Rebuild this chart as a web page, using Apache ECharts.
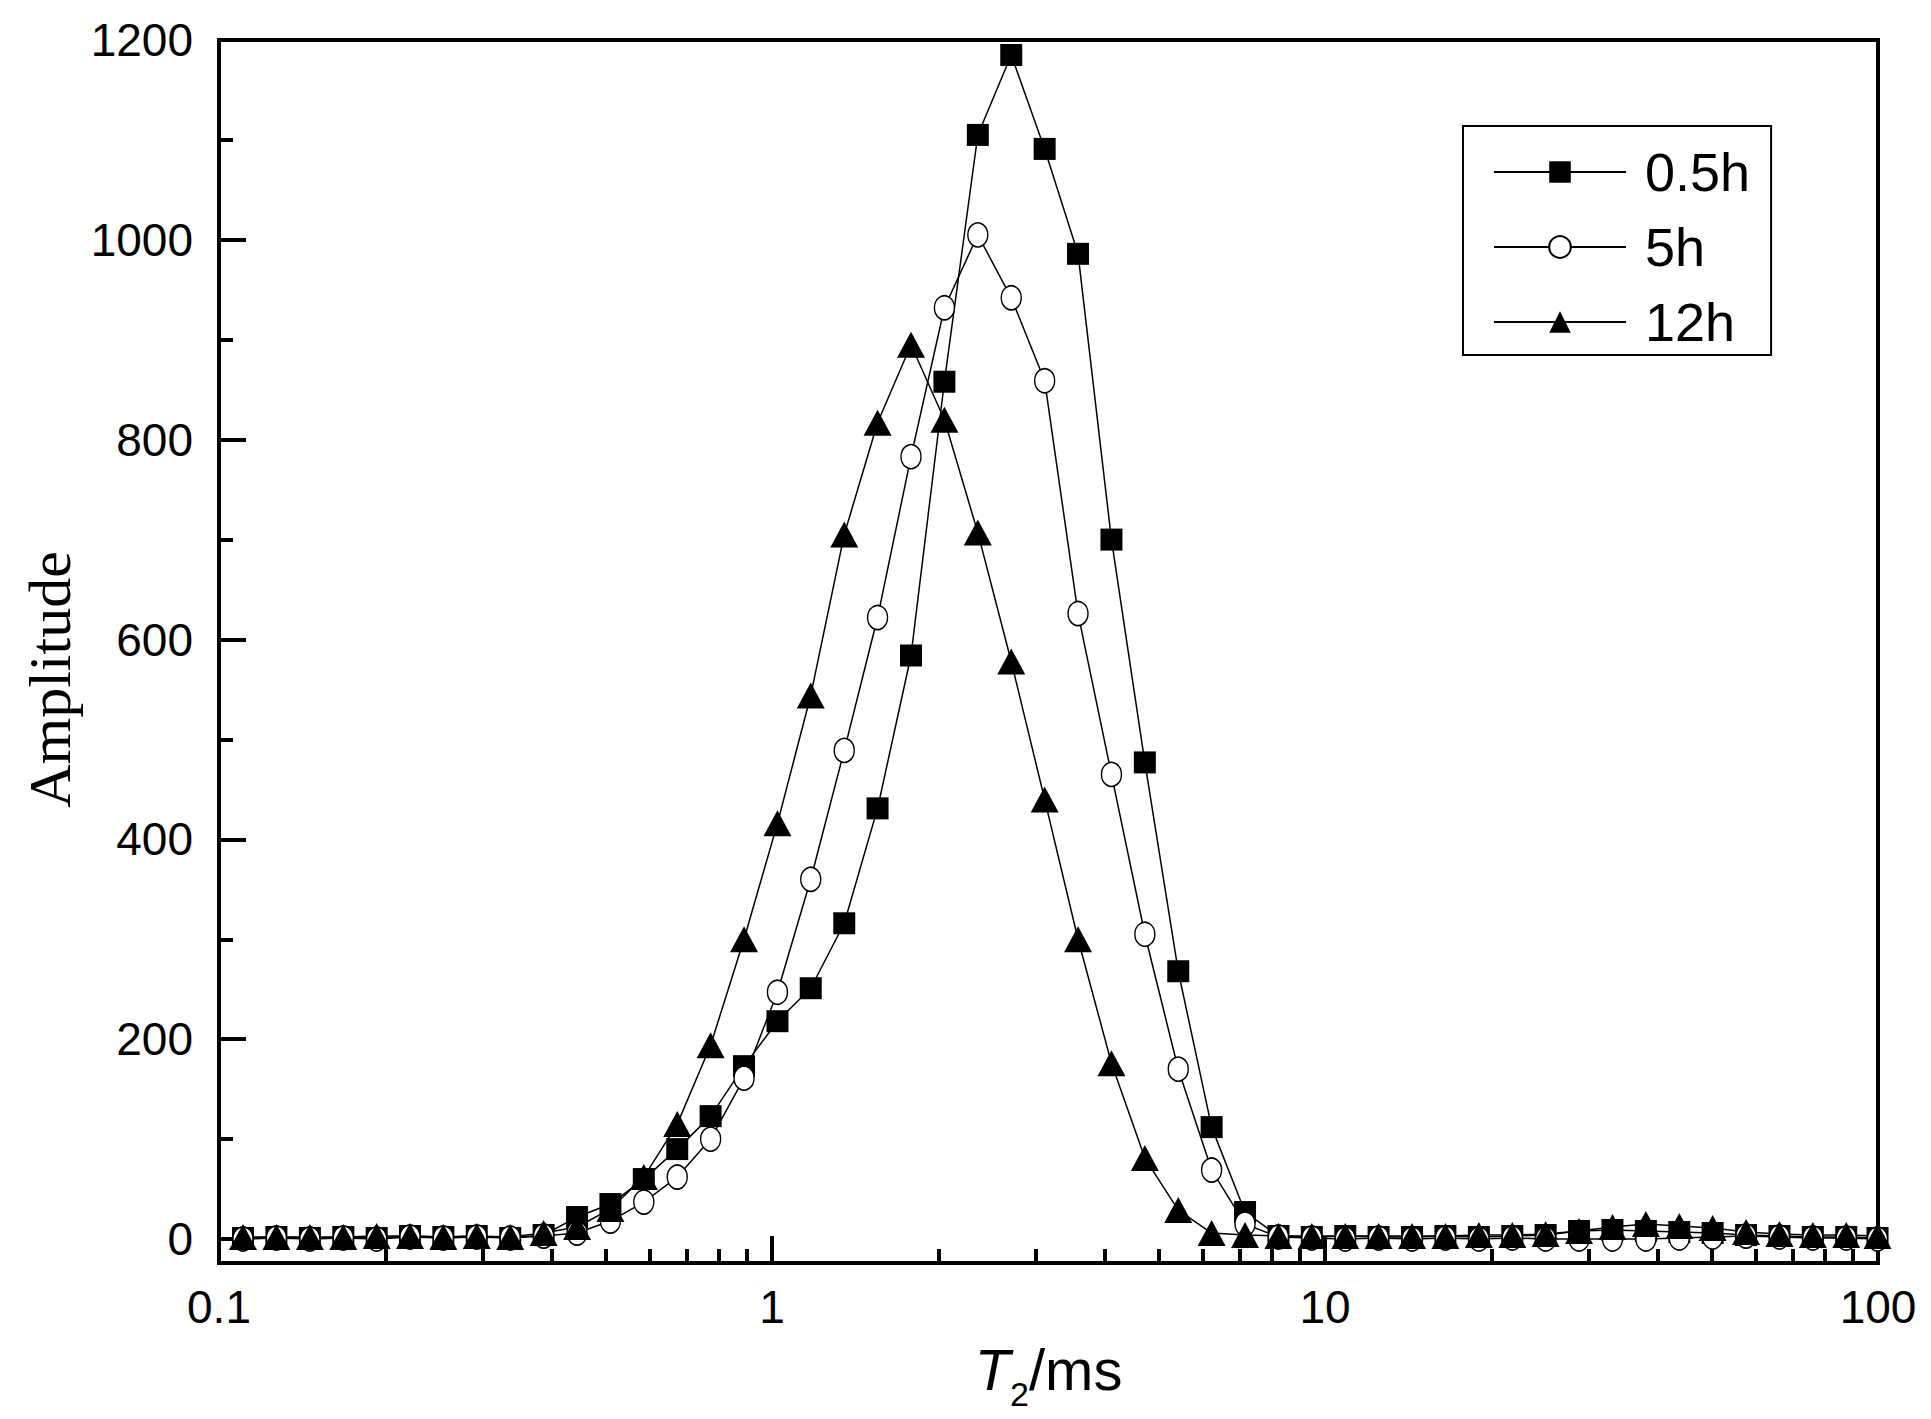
<!DOCTYPE html>
<html>
<head>
<meta charset="utf-8">
<script src="https://cdn.jsdelivr.net/npm/echarts@6/dist/echarts.min.js"></script>
<style>
  html, body { margin: 0; padding: 0; background: #fff; }
  #chart { width: 1931px; height: 1419px; background: #fff; }
</style>
</head>
<body>
<div id="chart"></div>
<script>
// T2 relaxation times (ms), log spaced
const t2 = [0.1105, 0.127, 0.146, 0.1678, 0.1928, 0.2215, 0.2545, 0.2925, 0.3362, 0.3864,
  0.4441, 0.5103, 0.5864, 0.674, 0.7745, 0.8901, 1.023, 1.175, 1.351, 1.552,
  1.784, 2.05, 2.356, 2.708, 3.112, 3.576, 4.11, 4.723, 5.428, 6.237,
  7.168, 8.238, 9.467, 10.88, 12.5, 14.37, 16.51, 18.98, 21.81, 25.06,
  28.8, 33.1, 38.04, 43.72, 50.23, 57.73, 66.34, 76.24, 87.61, 99.8];

const amp05h = [1, 2, 1, 2, 1, 3, 2, 3, 1, 4,
  22, 35, 60, 90, 123, 173, 218, 251, 316, 431,
  584, 858, 1105, 1185, 1091, 986, 700, 477, 268, 112,
  27, 3, 2, 3, 2, 2, 3, 2, 3, 4,
  8, 9, 8, 7, 6, 4, 3, 2, 2, 1];

const amp5h = [0, 1, 0, 1, 0, 2, 1, 2, 1, 3,
  6, 18, 37, 62, 100, 161, 247, 360, 489, 622,
  783, 932, 1005, 942, 859, 626, 465, 305, 170, 69,
  15, 2, 1, 0, 1, 0, 1, 0, 1, 0,
  0, 0, 0, 1, 2, 3, 2, 1, 1, 0];

const amp12h = [2, 2, 2, 2, 3, 3, 2, 3, 2, 6,
  12, 30, 62, 115, 194, 300, 416, 544, 705, 817,
  895, 820, 707, 578, 440, 300, 176, 81, 29, 6,
  4, 3, 3, 3, 3, 3, 3, 4, 4, 5,
  8, 12, 15, 13, 11, 7, 5, 4, 4, 3];

const seriesNames = ["0.5h", "5h", "12h"];
const yMajor = [0, 200, 400, 600, 800, 1000, 1200];
const yMinor = [100, 300, 500, 700, 900, 1100];
const xMinor = [0.2, 0.3, 0.4, 0.5, 0.6, 0.7, 0.8, 0.9,
  2, 3, 4, 5, 6, 7, 8, 9,
  20, 30, 40, 50, 60, 70, 80, 90];

const sans = "Liberation Sans, Arial, sans-serif";
const serif = "Liberation Serif, Times New Roman, serif";

const pairs = (ys) => t2.map((t, i) => [t, ys[i]]);

const lineStyle = { color: "#000", width: 1.5 };

const option = {
  animation: false,
  grid: {
    left: 219,
    top: 40,
    width: 1659,
    height: 1223,
    show: true,
    borderColor: "#000",
    borderWidth: 4,
  },
  legend: {
    orient: "vertical",
    left: 1463,
    top: 126,
    padding: [19, 21, 6, 30],
    itemGap: 21,
    itemWidth: 132,
    itemHeight: 27,
    borderColor: "#000",
    borderWidth: 2,
    data: seriesNames,
    textStyle: {
      fontSize: 54,
      fontFamily: sans,
      color: "#000",
      padding: [0, 0, 0, 14],
    },
  },
  xAxis: [
    {
      type: "log",
      logBase: 10,
      min: 0.1,
      max: 100,
      position: "bottom",
      name: "{i|T}{s|2}{n|/ms}",
      nameLocation: "middle",
      nameGap: 64,
      nameTextStyle: {
        rich: {
          i: { fontSize: 58, fontStyle: "italic", fontFamily: sans, color: "#000" },
          s: { fontSize: 34, fontFamily: sans, color: "#000", padding: [50, 0, 0, 0] },
          n: { fontSize: 58, fontFamily: sans, color: "#000" },
        },
      },
      axisLine: { show: true, onZero: false, lineStyle: { color: "#000", width: 4 } },
      axisTick: { show: true, inside: true, length: 27, lineStyle: { color: "#000", width: 4 } },
      axisLabel: { margin: 21, fontSize: 46, fontFamily: sans, color: "#000" },
      splitLine: { show: false },
    },
    {
      // minor ticks of the log axis (2..9 within each decade)
      type: "value",
      min: -1,
      max: 2,
      position: "bottom",
      axisLine: { show: false, onZero: false },
      axisLabel: { show: false },
      axisTick: {
        show: true,
        inside: true,
        length: 14,
        customValues: xMinor.map(Math.log10),
        lineStyle: { color: "#000", width: 4 },
      },
      splitLine: { show: false },
    },
  ],
  yAxis: [
    {
      type: "value",
      min: -24,
      max: 1200,
      position: "left",
      name: "Amplitude",
      nameLocation: "middle",
      nameGap: 131,
      nameTextStyle: {
        fontSize: 60,
        fontFamily: serif,
        color: "#000",
        padding: [0, 56, 0, 0],
      },
      axisLine: { show: true, onZero: false, lineStyle: { color: "#000", width: 4 } },
      axisTick: {
        show: true,
        inside: true,
        length: 27,
        customValues: yMajor,
        lineStyle: { color: "#000", width: 4 },
      },
      axisLabel: {
        customValues: yMajor,
        margin: 26,
        fontSize: 46,
        fontFamily: sans,
        color: "#000",
        formatter: (v) => String(v),
      },
      splitLine: { show: false },
    },
    {
      type: "value",
      min: -24,
      max: 1200,
      position: "left",
      axisLine: { show: false, onZero: false },
      axisLabel: { show: false },
      axisTick: {
        show: true,
        inside: true,
        length: 14,
        customValues: yMinor,
        lineStyle: { color: "#000", width: 4 },
      },
      splitLine: { show: false },
    },
  ],
  series: [
    {
      name: "0.5h",
      type: "line",
      data: pairs(amp05h),
      symbol: "rect",
      symbolSize: 22,
      showAllSymbol: true,
      itemStyle: { color: "#000" },
      lineStyle: lineStyle,
    },
    {
      name: "5h",
      type: "line",
      data: pairs(amp5h),
      symbol: "circle",
      symbolSize: [20, 24],
      showAllSymbol: true,
      itemStyle: { color: "#fff", borderColor: "#000", borderWidth: 1.5 },
      lineStyle: lineStyle,
    },
    {
      name: "12h",
      type: "line",
      data: pairs(amp12h),
      symbol: "triangle",
      symbolSize: [28, 26],
      showAllSymbol: true,
      itemStyle: { color: "#000" },
      lineStyle: lineStyle,
    },
  ],
};

// SVG renderer: canvas drew only part of the tick marks
const myChart = echarts.init(document.getElementById("chart"), null, { renderer: "svg" });
myChart.setOption(option);
</script>
</body>
</html>
